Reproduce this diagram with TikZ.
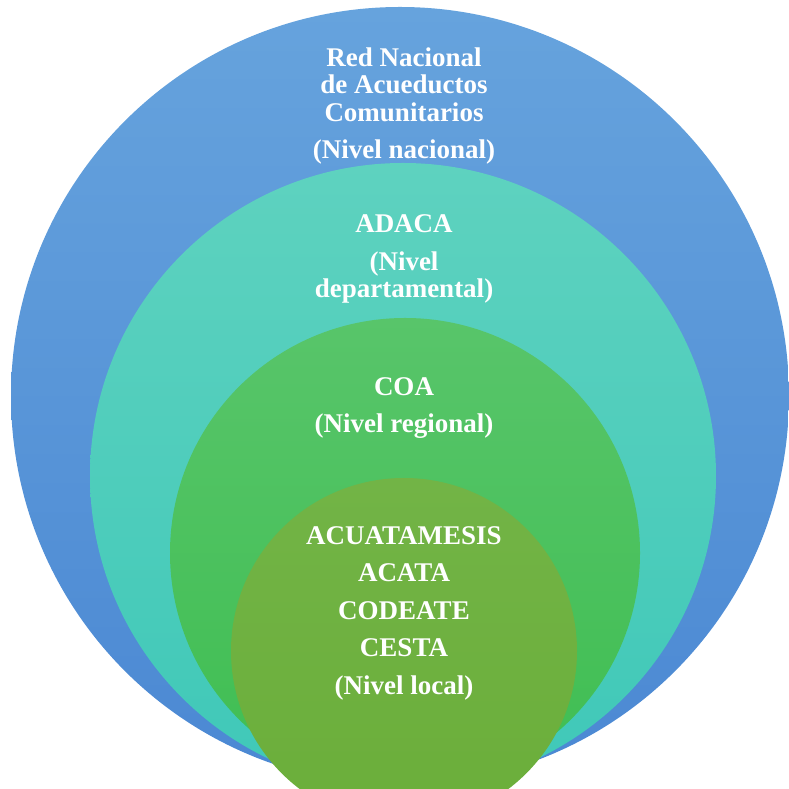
\documentclass[tikz,border=0pt]{standalone}
\usepackage{fontspec}
\setmainfont{Liberation Serif}
\tikzset{
  level/.style={circle, inner sep=0pt, minimum size=#1},
  tag/.style={text=white, font=\bfseries\fontsize{27}{27.5}\selectfont, align=center},
}
\definecolor{bluetop}{HTML}{66A3DD}
\definecolor{bluebot}{HTML}{4B88D3}
\definecolor{tealtop}{HTML}{5ED2BF}
\definecolor{tealbot}{HTML}{3FC8B8}
\definecolor{greentop}{HTML}{58C56A}
\definecolor{greenbot}{HTML}{3FBE52}
\definecolor{olivetop}{HTML}{72B446}
\definecolor{olivebot}{HTML}{6BAE3A}
\begin{document}
\begin{tikzpicture}[x=1pt,y=1pt]
    \useasboundingbox (0,0) rectangle (789,789);
    \clip (0,0) rectangle (789,789);

    \node[level=778pt, top color=bluetop, bottom color=bluebot] (red) at (400,393) {};
    \node[level=626pt, top color=tealtop, bottom color=tealbot] (adaca) at (403,313) {};
    \node[level=470pt, top color=greentop, bottom color=greenbot] (coa) at (405,236) {};
    \node[level=346pt, top color=olivetop, bottom color=olivebot] (acueductos) at (404,138) {};

    \node[tag] (nacional) at (404,683) {Red Nacional\\de Acueductos\\Comunitarios\\[10pt](Nivel nacional)};
    \node[tag] (departamental) at (404,530) {ADACA\\[10pt](Nivel\\departamental)};
    \node[tag] (regional) at (404,381) {COA\\[10pt](Nivel regional)};
    \node[tag] (local) at (404,176) {ACUATAMESIS\\[10pt]ACATA\\[10pt]CODEATE\\[10pt]CESTA\\[10pt](Nivel local)};
\end{tikzpicture}
\end{document}
